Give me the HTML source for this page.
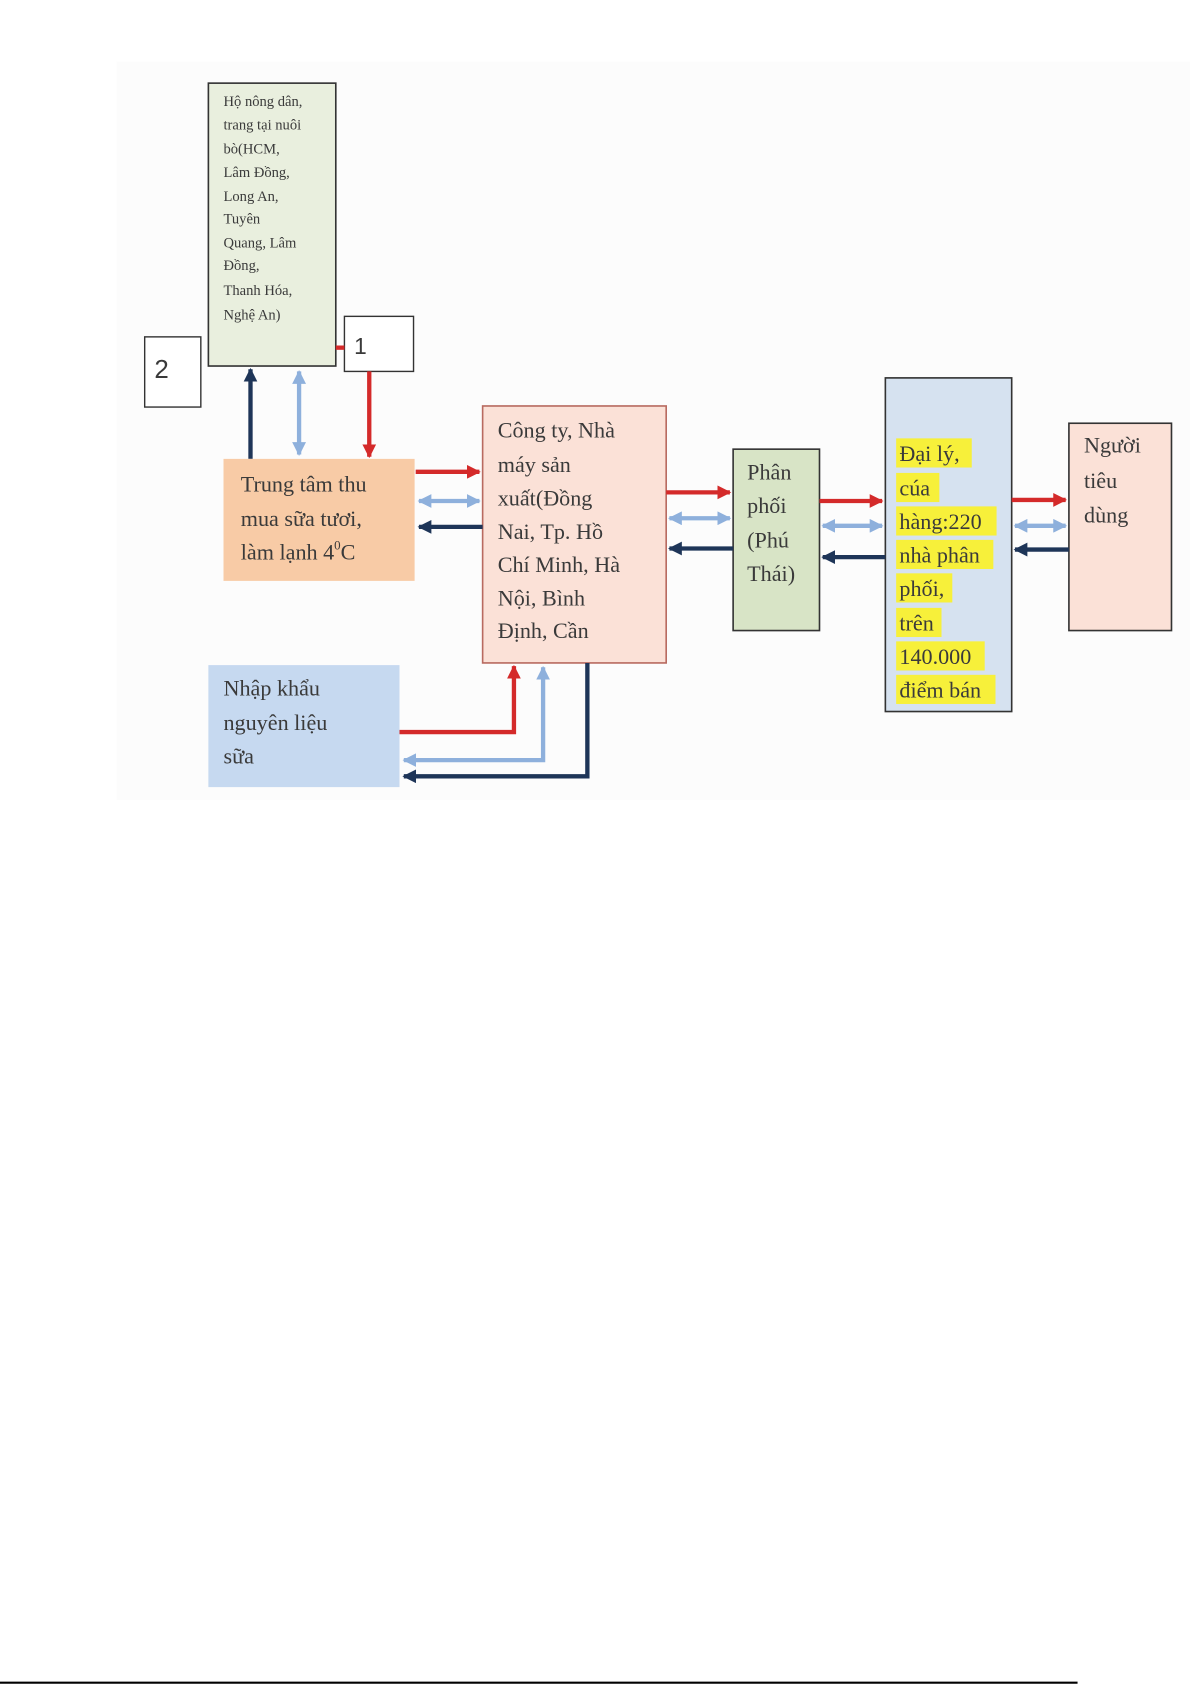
<!DOCTYPE html>
<html><head><meta charset="utf-8"><style>
html,body{margin:0;padding:0;background:#fff;}
svg{display:block;}
text{font-family:"Liberation Serif",serif;fill:#3a3a3a;}
</style></head><body>
<svg width="1192" height="1685" viewBox="0 0 1104 1560.6" preserveAspectRatio="none" xmlns="http://www.w3.org/2000/svg">
<defs>
<marker id="r" viewBox="0 0 10 10" refX="9" refY="5" markerWidth="3.2" markerHeight="3.2" orient="auto-start-reverse"><path d="M0,0L10,5L0,10z" fill="#d42a2a"/></marker>
<marker id="b" viewBox="0 0 10 10" refX="9" refY="5" markerWidth="3.2" markerHeight="3.2" orient="auto-start-reverse"><path d="M0,0L10,5L0,10z" fill="#8eb0dc"/></marker>
<marker id="n" viewBox="0 0 10 10" refX="9" refY="5" markerWidth="3.2" markerHeight="3.2" orient="auto-start-reverse"><path d="M0,0L10,5L0,10z" fill="#1e3558"/></marker>
</defs>
<rect x="108" y="57" width="994" height="684" fill="#fcfcfc"/>
<!-- farm -->
<rect x="193" y="77" width="118" height="262" fill="#e9efde" stroke="#333" stroke-width="1.5"/>
<g font-size="13.5">
<text x="207" y="98">Hộ nông dân,</text>
<text x="207" y="120">trang tại nuôi</text>
<text x="207" y="142">bò(HCM,</text>
<text x="207" y="164">Lâm Đồng,</text>
<text x="207" y="186">Long An,</text>
<text x="207" y="207">Tuyên</text>
<text x="207" y="229">Quang, Lâm</text>
<text x="207" y="250">Đồng,</text>
<text x="207" y="273">Thanh Hóa,</text>
<text x="207" y="296">Nghệ An)</text>
</g>
<rect x="134" y="312" width="52" height="65" fill="#fff" stroke="#333" stroke-width="1.3"/>
<text x="143" y="350" font-size="24" style="font-family:'Liberation Sans',sans-serif" fill="#111">2</text>
<rect x="319" y="293" width="64" height="51" fill="#fff" stroke="#333" stroke-width="1.3"/>
<text x="328" y="328" font-size="21" style="font-family:'Liberation Sans',sans-serif" fill="#111">1</text>
<line x1="311" y1="322" x2="319" y2="322" stroke="#d42a2a" stroke-width="4"/>
<line x1="232" y1="425" x2="232" y2="342" stroke="#1e3558" stroke-width="4" marker-end="url(#n)"/>
<line x1="277" y1="344" x2="277" y2="421" stroke="#8eb0dc" stroke-width="4" marker-start="url(#b)" marker-end="url(#b)"/>
<line x1="342" y1="344" x2="342" y2="423" stroke="#d42a2a" stroke-width="4" marker-end="url(#r)"/>
<!-- trung tam -->
<rect x="207" y="425" width="177" height="113" fill="#f8cba6"/>
<g font-size="20.5">
<text x="223" y="455">Trung tâm thu</text>
<text x="223" y="487">mua sữa tươi,</text>
<text x="223" y="518">làm lạnh 4<tspan font-size="12" dy="-9">0</tspan><tspan dy="9">C</tspan></text>
</g>
<!-- cong ty -->
<rect x="447" y="376" width="170" height="238" fill="#fbe1d7" stroke="#b86a60" stroke-width="1.5"/>
<g font-size="20.5">
<text x="461" y="405">Công ty, Nhà</text>
<text x="461" y="437">máy sản</text>
<text x="461" y="468">xuất(Đồng</text>
<text x="461" y="499">Nai, Tp. Hồ</text>
<text x="461" y="530">Chí Minh, Hà</text>
<text x="461" y="561">Nội, Bình</text>
<text x="461" y="591">Định, Cần</text>
</g>
<line x1="385" y1="437" x2="444" y2="437" stroke="#d42a2a" stroke-width="4" marker-end="url(#r)"/>
<line x1="388" y1="464" x2="444" y2="464" stroke="#8eb0dc" stroke-width="4" marker-start="url(#b)" marker-end="url(#b)"/>
<line x1="447" y1="488" x2="388" y2="488" stroke="#1e3558" stroke-width="4" marker-end="url(#n)"/>
<!-- phan phoi -->
<rect x="679" y="416" width="80" height="168" fill="#d8e4c6" stroke="#333" stroke-width="1.5"/>
<g font-size="20.5">
<text x="692" y="444">Phân</text>
<text x="692" y="475">phối</text>
<text x="692" y="507">(Phú</text>
<text x="692" y="538">Thái)</text>
</g>
<line x1="617" y1="456" x2="676" y2="456" stroke="#d42a2a" stroke-width="4" marker-end="url(#r)"/>
<line x1="620" y1="480" x2="676" y2="480" stroke="#8eb0dc" stroke-width="4" marker-start="url(#b)" marker-end="url(#b)"/>
<line x1="679" y1="508" x2="620" y2="508" stroke="#1e3558" stroke-width="4" marker-end="url(#n)"/>
<!-- dai ly -->
<rect x="820" y="350" width="117" height="309" fill="#d6e2f0" stroke="#333" stroke-width="1.5"/>
<g fill="#f7f03a">
<rect x="830" y="406" width="70" height="27"/>
<rect x="830" y="438" width="40" height="27"/>
<rect x="830" y="469" width="93" height="27"/>
<rect x="830" y="500" width="90" height="27"/>
<rect x="830" y="531" width="52" height="27"/>
<rect x="830" y="563" width="42" height="27"/>
<rect x="830" y="594" width="82" height="27"/>
<rect x="830" y="625" width="92" height="27"/>
</g>
<g font-size="20.5">
<text x="833" y="427">Đại lý,</text>
<text x="833" y="459">cúa</text>
<text x="833" y="490">hàng:220</text>
<text x="833" y="521">nhà phân</text>
<text x="833" y="552">phối,</text>
<text x="833" y="584">trên</text>
<text x="833" y="615">140.000</text>
<text x="833" y="646">điểm bán</text>
</g>
<line x1="759" y1="464" x2="817" y2="464" stroke="#d42a2a" stroke-width="4" marker-end="url(#r)"/>
<line x1="762" y1="487" x2="817" y2="487" stroke="#8eb0dc" stroke-width="4" marker-start="url(#b)" marker-end="url(#b)"/>
<line x1="820" y1="516" x2="762" y2="516" stroke="#1e3558" stroke-width="4" marker-end="url(#n)"/>
<!-- nguoi tieu dung -->
<rect x="990" y="392" width="95" height="192" fill="#fbe1d7" stroke="#333" stroke-width="1.5"/>
<g font-size="20.5">
<text x="1004" y="419">Người</text>
<text x="1004" y="452">tiêu</text>
<text x="1004" y="484">dùng</text>
</g>
<line x1="937" y1="463" x2="987" y2="463" stroke="#d42a2a" stroke-width="4" marker-end="url(#r)"/>
<line x1="940" y1="487" x2="987" y2="487" stroke="#8eb0dc" stroke-width="4" marker-start="url(#b)" marker-end="url(#b)"/>
<line x1="990" y1="509" x2="940" y2="509" stroke="#1e3558" stroke-width="4" marker-end="url(#n)"/>
<!-- nhap khau -->
<rect x="193" y="616" width="177" height="113" fill="#c6d9f0"/>
<g font-size="20.5">
<text x="207" y="644">Nhập khẩu</text>
<text x="207" y="676">nguyên liệu</text>
<text x="207" y="707">sữa</text>
</g>
<polyline points="370,678 476,678 476,617" fill="none" stroke="#d42a2a" stroke-width="4" marker-end="url(#r)"/>
<polyline points="503,618 503,704 374,704" fill="none" stroke="#8eb0dc" stroke-width="4" marker-start="url(#b)" marker-end="url(#b)"/>
<polyline points="544,614 544,719 374,719" fill="none" stroke="#1e3558" stroke-width="4" marker-end="url(#n)"/>
<line x1="0" y1="1558.5" x2="998" y2="1558.5" stroke="#000" stroke-width="2"/>
</svg>
</body></html>
